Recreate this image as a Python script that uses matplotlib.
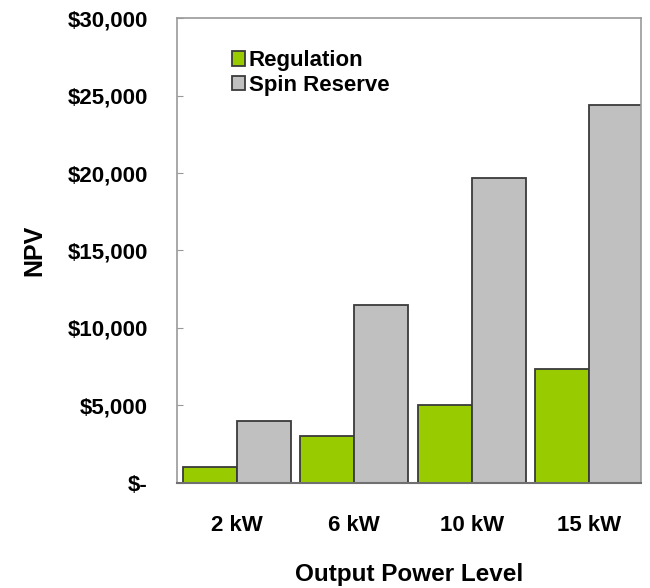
import matplotlib
matplotlib.use("Agg")
from matplotlib import pyplot as plt
from matplotlib.ticker import FuncFormatter
import numpy as np

plt.rcParams["font.family"] = ["Liberation Sans", "DejaVu Sans"]
plt.rcParams["font.weight"] = "bold"

levels = ["2 kW", "6 kW", "10 kW", "15 kW"]
regulation = [1000, 3000, 5000, 7350]
spin_reserve = [4000, 11500, 19700, 24400]

GREEN = "#99CC00"
GRAY = "#C0C0C0"
EDGE = "#3a3a3a"


def dollars(v, pos):
    if v == 0:
        return "$-"
    return f"${v:,.0f}"


fig = plt.figure(figsize=(6.5, 5.88), dpi=100)
ax = fig.add_axes([0.272, 0.179, 0.714, 0.790])

x = np.arange(len(levels))
w = 0.46
ax.bar(x - w / 2, regulation, w, color=GREEN, edgecolor=EDGE, lw=1.3, label="Regulation")
ax.bar(x + w / 2, spin_reserve, w, color=GRAY, edgecolor=EDGE, lw=1.3, label="Spin Reserve")

ax.set_xlim(-0.51, 3.44)
ax.set_ylim(0, 30000)
ax.set_yticks(np.arange(0, 30001, 5000))
ax.yaxis.set_major_formatter(FuncFormatter(dollars))
ax.set_xticks(x)
ax.set_xticklabels(levels)
ax.tick_params(axis="x", length=0, pad=23, labelsize=16)
ax.tick_params(axis="y", length=4, direction="in", color="#999999", pad=21, labelsize=16)

for s in ["top", "right", "left"]:
    ax.spines[s].set_color("#999999")
    ax.spines[s].set_linewidth(1.2)
ax.spines["bottom"].set_color("#707070")
ax.spines["bottom"].set_linewidth(1.5)

ax.set_ylabel("NPV", fontsize=18, fontweight="bold", labelpad=15)
ax.set_xlabel("Output Power Level", fontsize=17.5, fontweight="bold", labelpad=20)

leg = ax.legend(loc="upper left", bbox_to_anchor=(0.1, 0.95), frameon=False,
                fontsize=16, handlelength=0.6, handleheight=0.6, handletextpad=0.15,
                labelspacing=0.15, borderaxespad=0)

fig.savefig("out.png", dpi=100)
